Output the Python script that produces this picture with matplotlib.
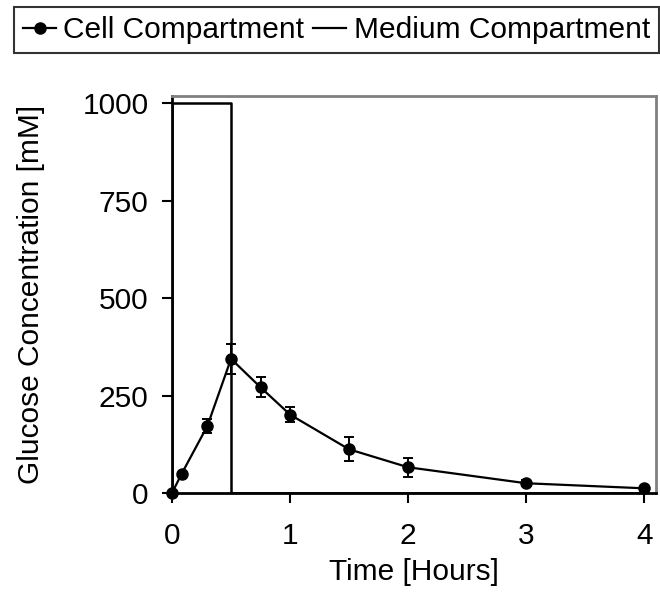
import matplotlib
matplotlib.use("Agg")
import matplotlib.pyplot as plt
from matplotlib.lines import Line2D

plt.rcParams['font.family'] = ['Liberation Sans', 'DejaVu Sans']

# Cell compartment glucose (mean +/- error)
cell_time = [0, 0.083, 0.3, 0.5, 0.75, 1.0, 1.5, 2.0, 3.0, 4.0]
cell_conc = [0, 50, 172, 344, 271, 201, 112, 66, 25, 12]
cell_err = [0, 0, 17, 38, 26, 20, 31, 24, 8, 4]

# Medium compartment glucose: 1000 mM pulse for the first half hour
medium_time = [0, 0, 0.083, 0.3, 0.5, 0.5, 4.0]
medium_conc = [0, 1000, 1000, 1000, 1000, 0, 0]

x_ticks = [0, 1, 2, 3, 4]
y_ticks = [0, 250, 500, 750, 1000]

FS = 21.5

fig = plt.figure(figsize=(6.6, 6.01), dpi=100)
ax = fig.add_axes([172 / 660, 1 - 493 / 601, (656 - 172) / 660, (493 - 96) / 601])

ax.plot(medium_time, medium_conc, color='black', lw=1.8, zorder=2)
ax.errorbar(cell_time, cell_conc, yerr=cell_err, color='black', lw=1.6, marker='o',
            markersize=8, capsize=3.5, elinewidth=1.4, capthick=1.4,
            zorder=3, clip_on=False)

ax.set_xlim(0, 4.1)
ax.set_ylim(0, 1018)
ax.set_xticks(x_ticks)
ax.set_yticks(y_ticks)
ax.tick_params(axis='both', labelsize=FS, direction='out', length=7, width=1.5)
ax.tick_params(axis='x', pad=14)
ax.tick_params(axis='y', pad=10)

for side in ('left', 'bottom'):
    ax.spines[side].set_color('black')
    ax.spines[side].set_linewidth(2)
for side in ('top', 'right'):
    ax.spines[side].set_color('#808080')
    ax.spines[side].set_linewidth(2)

ax.set_xlabel('Time [Hours]', fontsize=FS, labelpad=6)
ax.set_ylabel('Glucose Concentration [mM]', fontsize=FS, labelpad=27)

cell_handle = Line2D([], [], color='black', lw=1.6, marker='o', markersize=8)
medium_handle = Line2D([], [], color='black', lw=1.6)
leg = fig.legend([cell_handle, medium_handle], ['Cell Compartment', 'Medium Compartment'],
                 loc='upper center', bbox_to_anchor=(336.5 / 660, 1 - 7 / 601),
                 ncol=2, fontsize=FS, frameon=True, fancybox=False, shadow=False,
                 handlelength=1.1, handletextpad=0.25, columnspacing=0.3,
                 borderpad=0.3, borderaxespad=0)
leg.get_frame().set_edgecolor('black')
leg.get_frame().set_linewidth(1.5)

fig.savefig('out.png', dpi=100)
